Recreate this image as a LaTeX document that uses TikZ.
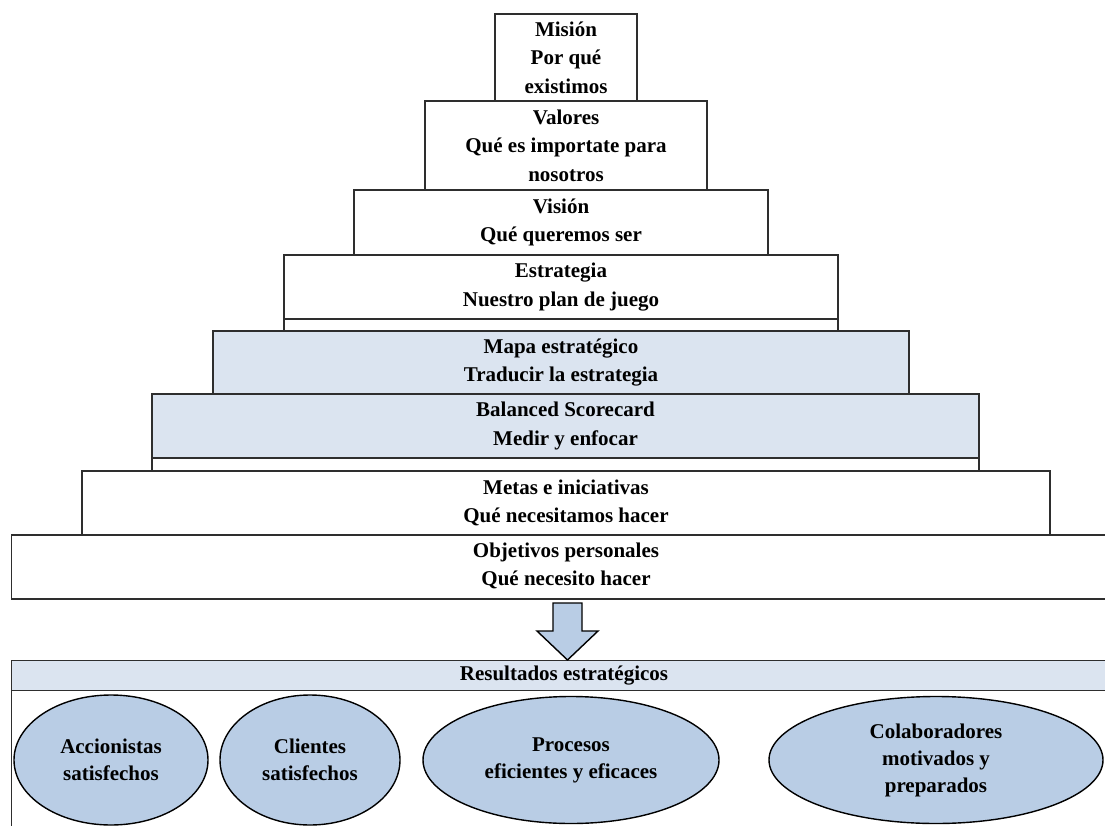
\documentclass[tikz,border=0pt]{standalone}
\usepackage{fontspec}
\setmainfont{Liberation Serif}
\usetikzlibrary{shapes.geometric}
\definecolor{lineC}{HTML}{2E2E2E}
\definecolor{paleblue}{HTML}{DBE4F0}
\definecolor{midblue}{HTML}{B9CDE5}
\tikzset{
  lvl/.style={draw=lineC, line width=1.2pt, rectangle, inner sep=0pt, align=center,
    font=\fontsize{21}{28.5}\selectfont\bfseries},
  strip/.style={draw=lineC, line width=1.2pt, rectangle, inner sep=0pt, fill=white},
  oval/.style={draw=black, line width=1.4pt, ellipse, inner sep=0pt, fill=midblue, align=center,
    font=\fontsize{21}{27}\selectfont\bfseries}
}
\begin{document}
\begin{tikzpicture}[x=1pt,y=-1pt]
\clip (0,0) rectangle (1105,826);
\fill[white] (0,0) rectangle (1105,826);
% results container
\node[draw=lineC, line width=1.2pt, rectangle, inner sep=0pt, minimum width=1120pt, minimum height=160pt, anchor=north west] (cont) at (11,690) {};
\node[lvl, fill=paleblue, minimum width=1120pt, minimum height=30pt, anchor=north west] (res) at (11,660) {};
\node[font=\fontsize{21}{28.5}\selectfont\bfseries, inner sep=0pt] (restxt) at (564,676) {Resultados estratégicos};
% pyramid
\node[lvl, minimum width=142pt, minimum height=87pt] (mision) at (566,57.5) {Misión\\Por qué\\existimos};
\node[lvl, minimum width=282pt, minimum height=89pt] (valores) at (566,145.5) {Valores\\Qué es importate para\\nosotros};
\node[lvl, minimum width=414pt, minimum height=65pt] (vision) at (561,222.5) {Visión\\Qué queremos ser};
\node[lvl, minimum width=554pt, minimum height=64pt] (estrategia) at (561,287) {Estrategia\\Nuestro plan de juego};
\node[strip, minimum width=554pt, minimum height=12pt] (s1) at (561,325) {};
\node[lvl, fill=paleblue, minimum width=696pt, minimum height=63pt] (mapa) at (561,362.5) {Mapa estratégico\\Traducir la estrategia};
\node[lvl, fill=paleblue, minimum width=827pt, minimum height=64pt] (bsc) at (565.5,426) {Balanced Scorecard\\Medir y enfocar};
\node[strip, minimum width=827pt, minimum height=13pt] (s2) at (565.5,464.5) {};
\node[lvl, minimum width=968pt, minimum height=64pt] (metas) at (566,503) {Metas e iniciativas\\Qué necesitamos hacer};
\node[lvl, minimum width=1110pt, minimum height=64pt, anchor=west] (obj) at (11,567) {};
\node[font=\fontsize{21}{28.5}\selectfont\bfseries, inner sep=0pt, align=center] (objtxt) at (566,566) {Objetivos personales\\Qué necesito hacer};
% block arrow
\coordinate (arrtip) at (567.5,660);
\filldraw[draw=black, fill=midblue, line width=1.4pt, line join=miter]
  (553,603) -- (582,603) -- (582,631) -- (598,631) -- (arrtip) -- (537,631) -- (553,631) -- cycle;
% ovals
\node[oval, minimum width=194pt, minimum height=130pt] (acc) at (111,760) {Accionistas\\satisfechos};
\node[oval, minimum width=180pt, minimum height=130pt] (cli) at (310,760) {Clientes\\satisfechos};
\node[oval, minimum width=296pt, minimum height=127pt] (pro) at (571,760) {Procesos\\eficientes y eficaces};
\node[oval, minimum width=334pt, minimum height=127pt] (col) at (936,760) {Colaboradores\\motivados y\\preparados};
\end{tikzpicture}
\end{document}
